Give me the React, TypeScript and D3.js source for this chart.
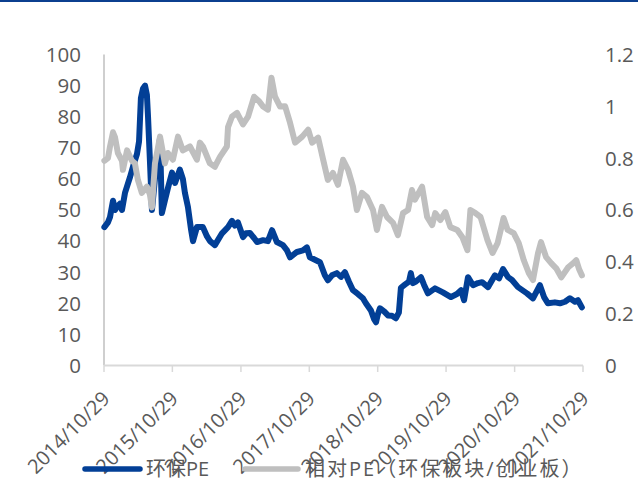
import React, { useEffect, useRef } from "react";
import * as d3 from "d3";

// 环保板块 PE (left axis)
const peDates = [
  "2014-10-31", "2014-11-19", "2014-11-30", "2014-12-16", "2014-12-27", "2015-01-06", "2015-01-22", "2015-02-02",
  "2015-02-18", "2015-03-17", "2015-04-02", "2015-04-23", "2015-05-04", "2015-05-14", "2015-05-25", "2015-06-05",
  "2015-06-15", "2015-06-21", "2015-07-01", "2015-07-12", "2015-07-28", "2015-08-13", "2015-08-24", "2015-09-03",
  "2015-09-19", "2015-10-05", "2015-10-27", "2015-11-12", "2015-12-08", "2015-12-24", "2016-01-04", "2016-01-20",
  "2016-02-05", "2016-02-16", "2016-03-08", "2016-04-09", "2016-05-01", "2016-05-17", "2016-06-12", "2016-07-20",
  "2016-08-21", "2016-09-11", "2016-09-27", "2016-10-13", "2016-11-09", "2016-11-25", "2016-12-16", "2017-01-07",
  "2017-01-23", "2017-02-24", "2017-03-22", "2017-04-13", "2017-05-09", "2017-06-10", "2017-07-02", "2017-07-18",
  "2017-08-24", "2017-09-25", "2017-10-16", "2017-11-01", "2017-11-28", "2017-12-25", "2018-01-20", "2018-02-05",
  "2018-02-27", "2018-03-25", "2018-04-16", "2018-05-07", "2018-05-28", "2018-06-19", "2018-07-15", "2018-08-11",
  "2018-08-27", "2018-09-23", "2018-10-09", "2018-10-20", "2018-10-30", "2018-11-10", "2018-12-01", "2018-12-23",
  "2019-01-13", "2019-02-03", "2019-02-19", "2019-03-02", "2019-03-23", "2019-04-14", "2019-04-24", "2019-05-05",
  "2019-05-21", "2019-06-17", "2019-07-03", "2019-07-24", "2019-08-31", "2019-10-12", "2019-11-24", "2019-12-26",
  "2020-01-17", "2020-02-02", "2020-02-23", "2020-03-21", "2020-04-16", "2020-05-08", "2020-06-09", "2020-07-16",
  "2020-08-07", "2020-08-28", "2020-09-24", "2020-10-15", "2020-11-16", "2021-01-03", "2021-02-04", "2021-02-25",
  "2021-03-13", "2021-04-04", "2021-04-25", "2021-06-01", "2021-06-28", "2021-07-25", "2021-08-20", "2021-09-16",
  "2021-10-02", "2021-10-23",
];
const peValues = [
  44.5, 46, 47.7, 53, 50, 51, 52, 50,
  55.5, 60.6, 64, 68, 72, 86, 89, 90,
  87, 80, 66, 50, 60, 68, 73, 49,
  53, 57, 62, 58.7, 63, 60, 55.5, 51,
  44, 40, 44.5, 44.5, 41.5, 40, 38.7, 42.5,
  44.5, 46.5, 45, 46, 41.3, 42.5, 42.6, 41,
  39.7, 40.3, 40, 43.5, 39.7, 38.7, 37, 34.8,
  36.5, 37, 38, 34.8, 34, 33.2, 29, 27.4,
  29, 29.7, 28.5, 30, 27, 24.2, 23, 21.6,
  20, 17.7, 15, 13.9, 16.5, 18.4, 17.5, 16.1,
  16, 15.2, 17, 25, 26, 27, 29.7, 26.5,
  27, 28.4, 26, 23.2, 24.8, 23.5, 22, 23,
  24.2, 21, 28.4, 25.8, 26.5, 26.8, 25.2, 29,
  28, 31, 28.4, 27.5, 25.2, 23.2, 21.6, 24,
  25.8, 22, 20, 20.3, 20, 20.5, 21.6, 20.5,
  21, 18.7,
];

// 相对PE：环保板块 / 创业板 (right axis)
const relDates = [
  "2014-10-31", "2014-11-19", "2014-11-30", "2014-12-16", "2014-12-27", "2015-01-11", "2015-02-02", "2015-02-07",
  "2015-03-01", "2015-03-27", "2015-04-12", "2015-04-28", "2015-05-19", "2015-06-15", "2015-07-01", "2015-07-12",
  "2015-07-28", "2015-08-13", "2015-08-24", "2015-09-09", "2015-09-19", "2015-10-05", "2015-11-01", "2015-11-28",
  "2015-12-24", "2016-01-31", "2016-03-08", "2016-03-24", "2016-04-09", "2016-05-16", "2016-06-12", "2016-07-09",
  "2016-08-15", "2016-08-21", "2016-09-11", "2016-10-08", "2016-11-09", "2016-12-06", "2017-01-07", "2017-02-03",
  "2017-02-24", "2017-03-22", "2017-04-10", "2017-04-29", "2017-05-26", "2017-06-22", "2017-07-18", "2017-08-14",
  "2017-09-21", "2017-10-23", "2017-11-13", "2017-12-15", "2018-01-11", "2018-02-05", "2018-03-04", "2018-03-31",
  "2018-04-27", "2018-05-24", "2018-06-19", "2018-07-10", "2018-08-06", "2018-09-02", "2018-10-04", "2018-10-25",
  "2018-11-21", "2018-12-18", "2019-01-19", "2019-02-14", "2019-03-13", "2019-04-09", "2019-04-30", "2019-05-16",
  "2019-06-23", "2019-07-20", "2019-08-16", "2019-09-01", "2019-09-28", "2019-10-25", "2019-11-21", "2019-12-28",
  "2020-01-24", "2020-02-20", "2020-03-07", "2020-04-03", "2020-04-30", "2020-06-06", "2020-07-03", "2020-07-30",
  "2020-08-31", "2020-09-22", "2020-10-24", "2020-11-20", "2020-12-17", "2021-01-13", "2021-02-04", "2021-03-03",
  "2021-03-19", "2021-04-15", "2021-05-12", "2021-06-08", "2021-07-05", "2021-08-11", "2021-09-07", "2021-09-23",
  "2021-10-09", "2021-10-23",
];
const relValues = [
  0.79, 0.8, 0.845, 0.9, 0.88, 0.82, 0.79, 0.755,
  0.83, 0.79, 0.78, 0.716, 0.666, 0.69, 0.66, 0.61,
  0.78, 0.84, 0.883, 0.82, 0.78, 0.82, 0.794, 0.883,
  0.83, 0.845, 0.794, 0.86, 0.845, 0.78, 0.767, 0.805,
  0.845, 0.92, 0.96, 0.975, 0.93, 0.96, 1.037, 1.02,
  0.999, 0.987, 1.11, 1.037, 0.999, 1.0, 0.937, 0.86,
  0.883, 0.91, 0.86, 0.879, 0.794, 0.716, 0.743, 0.697,
  0.794, 0.755, 0.69, 0.6, 0.666, 0.65, 0.6, 0.523,
  0.612, 0.573, 0.55, 0.503, 0.588, 0.6, 0.677, 0.64,
  0.69, 0.573, 0.542, 0.588, 0.561, 0.592, 0.534, 0.523,
  0.495, 0.445, 0.6, 0.588, 0.573, 0.484, 0.434, 0.472,
  0.569, 0.523, 0.511, 0.472, 0.406, 0.356, 0.33, 0.434,
  0.476, 0.418, 0.395, 0.375, 0.34, 0.379, 0.395, 0.406,
  0.37, 0.348,
];

const xTickDates = [
  "2014-10-29", "2015-10-29", "2016-10-29", "2017-10-29",
  "2018-10-29", "2019-10-29", "2020-10-29", "2021-10-29",
];
const xTickLabels = [
  "2014/10/29", "2015/10/29", "2016/10/29", "2017/10/29",
  "2018/10/29", "2019/10/29", "2020/10/29", "2021/10/29",
];
const leftTicks = [0, 10, 20, 30, 40, 50, 60, 70, 80, 90, 100];
const rightTicks = [0, 0.2, 0.4, 0.6, 0.8, 1, 1.2];
const seriesNames = ["环保PE", "相对PE（环保板块/创业板）"];

const W = 638;
const H = 481;
const BLUE = "#023F96";
const GREY = "#BFBFBF";
const TEXT = "#595959";
const FONT = "'Open Sans', 'Noto Sans CJK SC', sans-serif";

export default function App() {
  const ref = useRef<SVGSVGElement>(null);

  useEffect(() => {
    const svg = d3.select(ref.current);
    svg.selectAll("*").remove();

    const parse = d3.timeParse("%Y-%m-%d");
    const tickDates = xTickDates.map((s) => parse(s)!);

    const x = d3.scaleTime()
      .domain([tickDates[0], tickDates[tickDates.length - 1]])
      .range([104, 583]);
    const yL = d3.scaleLinear().domain([0, 100]).range([365.5, 54.5]);
    const yR = d3.scaleLinear().domain([0, 1.2]).range([365.5, 54.5]);

    // top rule
    svg.append("line")
      .attr("x1", 0).attr("x2", W).attr("y1", 1).attr("y2", 1)
      .attr("stroke", "#0B3F8F").attr("stroke-width", 2);

    // left axis labels
    svg.append("g").selectAll("text").data(leftTicks).join("text")
      .attr("x", 81).attr("y", (d) => yL(d)).attr("dy", "0.36em")
      .attr("text-anchor", "end").attr("fill", TEXT)
      .attr("font-family", FONT).attr("font-size", 20.5)
      .text((d) => d3.format("d")(d));

    // right axis labels
    svg.append("g").selectAll("text").data(rightTicks).join("text")
      .attr("x", 605).attr("y", (d) => yR(d)).attr("dy", "0.36em")
      .attr("text-anchor", "start").attr("fill", TEXT)
      .attr("font-family", FONT).attr("font-size", 20.5)
      .text((d) => String(d));

    // axis lines
    svg.append("line")
      .attr("x1", 104).attr("x2", 104).attr("y1", 54.5).attr("y2", 365.5)
      .attr("stroke", GREY).attr("stroke-width", 1.5);
    svg.append("line")
      .attr("x1", 104).attr("x2", 583).attr("y1", 365.5).attr("y2", 365.5)
      .attr("stroke", "#D9D9D9").attr("stroke-width", 2);
    svg.append("g").selectAll("line").data(tickDates).join("line")
      .attr("x1", (d) => x(d)).attr("x2", (d) => x(d))
      .attr("y1", 365.5).attr("y2", 372)
      .attr("stroke", "#D9D9D9").attr("stroke-width", 1.5);

    // series
    const pe = peDates.map((d, i) => ({ date: parse(d)!, v: peValues[i] }));
    const rel = relDates.map((d, i) => ({ date: parse(d)!, v: relValues[i] }));

    const lineL = d3.line<{ date: Date; v: number }>().x((d) => x(d.date)).y((d) => yL(d.v));
    const lineR = d3.line<{ date: Date; v: number }>().x((d) => x(d.date)).y((d) => yR(d.v));

    svg.append("path").datum(pe).attr("d", lineL)
      .attr("fill", "none").attr("stroke", BLUE).attr("stroke-width", 6)
      .attr("stroke-linejoin", "round").attr("stroke-linecap", "round");
    svg.append("path").datum(rel).attr("d", lineR)
      .attr("fill", "none").attr("stroke", GREY).attr("stroke-width", 6)
      .attr("stroke-linejoin", "round").attr("stroke-linecap", "round");

    // x tick labels
    svg.append("g").selectAll("text").data(tickDates).join("text")
      .attr("transform", (d) => `translate(${x(d) + 7},${400}) rotate(-45)`)
      .attr("text-anchor", "end").attr("fill", TEXT)
      .attr("font-family", FONT).attr("font-size", 20)
      .text((_, i) => xTickLabels[i]);

    // legend
    const legend = [
      { color: BLUE, x1: 85, x2: 140, tx: 146, name: seriesNames[0], spacing: 0 },
      { color: GREY, x1: 245, x2: 298, tx: 305, name: seriesNames[1], spacing: 2 },
    ];
    const lg = svg.append("g");
    legend.forEach((l) => {
      lg.append("line")
        .attr("x1", l.x1).attr("x2", l.x2).attr("y1", 469).attr("y2", 469)
        .attr("stroke", l.color).attr("stroke-width", 5.5).attr("stroke-linecap", "round");
      lg.append("text")
        .attr("x", l.tx).attr("y", 469).attr("dy", "0.36em")
        .attr("fill", TEXT).attr("font-family", FONT).attr("font-size", 20)
        .attr("letter-spacing", l.spacing)
        .text(l.name);
    });
  }, []);

  return (
    <svg
      ref={ref}
      width={W}
      height={H}
      style={{ position: "absolute", left: 0, top: 0, background: "#fff" }}
    />
  );
}
